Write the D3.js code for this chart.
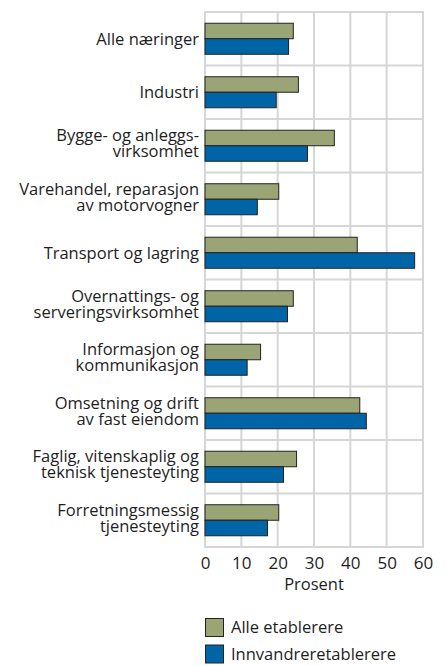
<!DOCTYPE html>
<html>
<head>
<meta charset="utf-8">
<script src="https://cdn.jsdelivr.net/npm/d3@7"></script>
<style>
body { margin: 0; padding: 0; background: #fff; }
text { font-family: "Open Sans", sans-serif; fill: #1e1e1e; }
</style>
</head>
<body>
<script>
// kategorier (to linjer der etiketten er brutt)
var categories = [
    ["Alle næringer"],
    ["Industri"],
    ["Bygge- og anleggs-", "virksomhet"],
    ["Varehandel, reparasjon", "av motorvogner"],
    ["Transport og lagring"],
    ["Overnattings- og", "serveringsvirksomhet"],
    ["Informasjon og", "kommunikasjon"],
    ["Omsetning og drift", "av fast eiendom"],
    ["Faglig, vitenskaplig og", "teknisk tjenesteyting"],
    ["Forretningsmessig", "tjenesteyting"]
];
var alleEtablerere = [24.3, 25.7, 35.6, 20.3, 41.9, 24.3, 15.3, 42.6, 25.2, 20.3];
var innvandrerEtablerere = [23.0, 19.6, 28.2, 14.4, 57.7, 22.7, 11.6, 44.4, 21.6, 17.2];
var seriesNames = ["Alle etablerere", "Innvandreretablerere"];
var seriesColors = ["#9ba474", "#0065a6"];
var xTicks = [0, 10, 20, 30, 40, 50, 60];

var width = 447, height = 666;
var margin = {left: 205, top: 12};
var plotW = 218, plotH = 535;

var svg = d3.select("body")
    .append("svg")
    .attr("width", width)
    .attr("height", height)
    .style("display", "block");

var g = svg.append("g")
    .attr("transform", "translate(" + margin.left + "," + margin.top + ")");

var x = d3.scaleLinear().domain([0, 60]).range([0, plotW]);
var y = d3.scaleBand().domain(d3.range(categories.length)).range([0, plotH]);
var inner = d3.scaleBand().domain([0, 1]).range([y.bandwidth() * 0.21, y.bandwidth() * 0.79]);

// rutenett
g.append("rect")
    .attr("x", 0).attr("y", 0)
    .attr("width", plotW).attr("height", plotH)
    .attr("fill", "none")
    .attr("stroke", "#d6d6d6")
    .attr("stroke-width", 2);

g.selectAll("line.vgrid")
    .data(xTicks)
    .enter()
    .append("line")
    .attr("class", "vgrid")
    .attr("x1", function(d){ return x(d); })
    .attr("x2", function(d){ return x(d); })
    .attr("y1", 0).attr("y2", plotH)
    .style("stroke", "#d6d6d6")
    .style("stroke-width", 2);

g.selectAll("line.hgrid")
    .data(d3.range(1, categories.length))
    .enter()
    .append("line")
    .attr("class", "hgrid")
    .attr("x1", 0).attr("x2", plotW)
    .attr("y1", function(d){ return y(d); })
    .attr("y2", function(d){ return y(d); })
    .style("stroke", "#d6d6d6")
    .style("stroke-width", 2);

// søyler
var series = [alleEtablerere, innvandrerEtablerere];
series.forEach(function(vals, s) {
    g.selectAll("rect.s" + s)
        .data(vals)
        .enter()
        .append("rect")
        .attr("class", "s" + s)
        .attr("x", x(0))
        .attr("y", function(_, i){ return y(i) + inner(s); })
        .attr("width", function(d){ return x(d) - x(0); })
        .attr("height", inner.bandwidth())
        .attr("fill", seriesColors[s])
        .attr("stroke", "#222")
        .attr("stroke-width", 1);
});

// kategoriteksten
var labels = g.selectAll("text.cat")
    .data(categories)
    .enter()
    .append("text")
    .attr("class", "cat")
    .attr("text-anchor", "end")
    .attr("font-size", 16.5)
    .attr("x", -6)
    .attr("y", function(d, i){
        var c = y(i) + y.bandwidth() / 2;
        return d.length === 1 ? c + 6 : c - 4.5;
    });
labels.each(function(d) {
    var t = d3.select(this);
    d.forEach(function(line, k) {
        t.append("tspan")
            .attr("x", -6)
            .attr("dy", k === 0 ? 0 : 16)
            .text(line);
    });
});

// x-akse
var xAxis = g.append("g")
    .attr("transform", "translate(0," + plotH + ")")
    .call(d3.axisBottom(x).tickValues(xTicks).tickSize(0).tickPadding(10));
xAxis.select(".domain").remove();
xAxis.selectAll("text")
    .attr("font-size", 17)
    .attr("font-family", "Open Sans, sans-serif")
    .style("fill", "#1e1e1e");

g.append("text")
    .attr("x", x(30))
    .attr("y", plotH + 43)
    .attr("text-anchor", "middle")
    .attr("font-size", 16.5)
    .text("Prosent");

// forklaring
var legend = svg.append("g")
    .attr("transform", "translate(205,618)");
seriesNames.forEach(function(name, i) {
    legend.append("rect")
        .attr("x", 0.5).attr("y", i * 26.5 + 0.5)
        .attr("width", 18).attr("height", 18)
        .attr("fill", seriesColors[i])
        .attr("stroke", "#222")
        .attr("stroke-width", 1);
    legend.append("text")
        .attr("x", 26)
        .attr("y", i * 26.5 + 15)
        .attr("font-size", 16.5)
        .text(name);
});
</script>
</body>
</html>
